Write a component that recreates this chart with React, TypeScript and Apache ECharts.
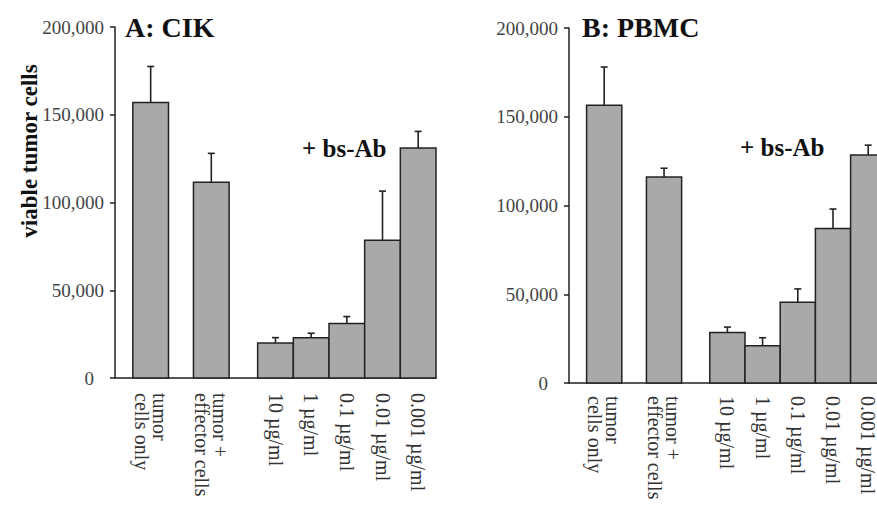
import React, { useEffect, useRef } from "react";
import * as echarts from "echarts";

const categories = [
  "tumor\ncells only",
  "tumor +\neffector cells",
  "10 µg/ml",
  "1 µg/ml",
  "0.1 µg/ml",
  "0.01 µg/ml",
  "0.001 µg/ml",
];
const cikMeans = [157000, 111500, 20000, 23000, 31000, 78500, 131000];
const cikErr = [20500, 16500, 3000, 2500, 4000, 28000, 9500];
const pbmcMeans = [156500, 116000, 28500, 21000, 45500, 87000, 128500];
const pbmcErr = [21500, 5000, 3000, 4500, 7500, 11000, 5500];
const yTicks = [0, 50000, 100000, 150000, 200000];
const panelTitles = ["A: CIK", "B: PBMC"];
const groupLabel = "+ bs-Ab";
const yAxisTitle = "viable tumor cells";

// layout: slot of each category along the x value axis (gap before the bs-Ab group)
const slotOf = (i: number) => (i === 0 ? 0 : i === 1 ? 1.7 : i + 1.5);
const slots = categories.map((_, i) => slotOf(i));

const SERIF = '"Liberation Serif", "Times New Roman", serif';
const INK = "#222";
// drawing surface is larger than the 877x508 window: panel B and the long
// rotated labels run past the window's edges, as in the original figure
const CANVAS_W = 960;
const CANVAS_H = 560;
const UNIT_B = 35.2; // px per slot in panel B

function labelAt(v: number) {
  const i = slots.findIndex((s) => Math.abs(s - v) < 1e-6);
  return i >= 0 ? categories[i] : "";
}

function renderBar(params: any, api: any) {
  const x = api.value(0);
  const v = api.value(1);
  const e = api.value(2);
  const [xl, y0] = api.coord([x - 0.5, 0]);
  const [xr, yv] = api.coord([x + 0.5, v]);
  const [xc, ye] = api.coord([x, v + e]);
  return {
    type: "group",
    children: [
      {
        type: "rect",
        shape: { x: xl, y: yv, width: xr - xl, height: y0 - yv },
        style: { fill: "#a9a9a9", stroke: INK, lineWidth: 1.5 },
      },
      {
        type: "line",
        shape: { x1: xc, y1: yv, x2: xc, y2: ye },
        style: { stroke: INK, lineWidth: 1.6 },
      },
      {
        type: "line",
        shape: { x1: xc - 3.5, y1: ye, x2: xc + 3.5, y2: ye },
        style: { stroke: INK, lineWidth: 1.6 },
      },
    ],
  };
}

function xAxisFor(gridIndex: number, margin: number, max: number) {
  return {
    type: "value",
    gridIndex,
    min: -1,
    max,
    splitLine: { show: false },
    axisTick: { show: false },
    axisLine: { show: true, onZero: false, lineStyle: { color: INK, width: 1.5 } },
    axisLabel: {
      customValues: slots,
      formatter: (v: number) => labelAt(v),
      rotate: -90,
      margin,
      overflow: "none",
      fontFamily: SERIF,
      fontSize: 20,
      lineHeight: 18,
      color: "#333",
    },
  };
}

function yAxisFor(gridIndex: number) {
  return {
    type: "value",
    gridIndex,
    min: 0,
    max: 200000,
    interval: 50000,
    splitLine: { show: false },
    axisLine: { show: true, onZero: false, lineStyle: { color: INK, width: 1.5 } },
    axisTick: { show: true, length: 5, lineStyle: { color: INK, width: 1.5 } },
    axisLabel: {
      margin: 11,
      customValues: yTicks,
      formatter: (v: number) =>
        v === 0 ? "{z|0}" : v.toLocaleString("en-US"),
      fontFamily: SERIF,
      fontSize: 19,
      color: "#444",
      rich: {
        z: { fontFamily: SERIF, fontSize: 19, color: "#444", padding: [0, 10, 0, 0] },
      },
    },
  };
}

function textEl(x: number, y: number, text: string, font: string) {
  return {
    type: "text",
    x,
    y,
    style: {
      text,
      font,
      fill: "#111",
      textAlign: "left",
      textVerticalAlign: "middle",
      align: "left",
      verticalAlign: "middle",
    },
  };
}

export default function App() {
  const ref = useRef<HTMLDivElement>(null);
  useEffect(() => {
    if (!ref.current) return;
    const chart = echarts.init(ref.current, null, { renderer: "svg" });
    const mk = (means: number[], errs: number[]) =>
      means.map((m, i) => [slots[i], m, errs[i]]);
    const bMax = 9;
    const bRightEdge = 569 + (bMax + 1) * UNIT_B;
    chart.setOption({
      animation: false,
      backgroundColor: "#ffffff",
      grid: [
        {
          left: 115,
          top: 27,
          right: CANVAS_W - 436,
          bottom: CANVAS_H - 378,
          outerBoundsMode: "none",
        },
        {
          left: 569,
          top: 28,
          right: CANVAS_W - bRightEdge,
          bottom: CANVAS_H - 383,
          outerBoundsMode: "none",
        },
      ],
      xAxis: [xAxisFor(0, 15, 8), xAxisFor(1, 13, bMax)],
      yAxis: [yAxisFor(0), yAxisFor(1)],
      series: [
        {
          type: "custom",
          xAxisIndex: 0,
          yAxisIndex: 0,
          renderItem: renderBar,
          data: mk(cikMeans, cikErr),
        },
        {
          type: "custom",
          xAxisIndex: 1,
          yAxisIndex: 1,
          renderItem: renderBar,
          data: mk(pbmcMeans, pbmcErr),
        },
      ],
      graphic: [
        textEl(125, 27, panelTitles[0], `bold 28px ${SERIF}`),
        textEl(582, 27, panelTitles[1], `bold 28px ${SERIF}`),
        textEl(302, 148, groupLabel, `bold 25px ${SERIF}`),
        textEl(740, 147, groupLabel, `bold 25px ${SERIF}`),
        {
          type: "text",
          x: 29,
          y: 151,
          rotation: Math.PI / 2,
          style: {
            text: yAxisTitle,
            font: `bold 23px ${SERIF}`,
            fill: "#111",
            textAlign: "center",
            textVerticalAlign: "middle",
            align: "center",
            verticalAlign: "middle",
          },
        },
      ],
    });
    return () => chart.dispose();
  }, []);
  return (
    <div
      style={{ position: "fixed", left: 0, top: 0, width: 877, height: 508, overflow: "hidden", background: "#fff" }}
    >
      <div ref={ref} style={{ width: CANVAS_W, height: CANVAS_H }} />
    </div>
  );
}
